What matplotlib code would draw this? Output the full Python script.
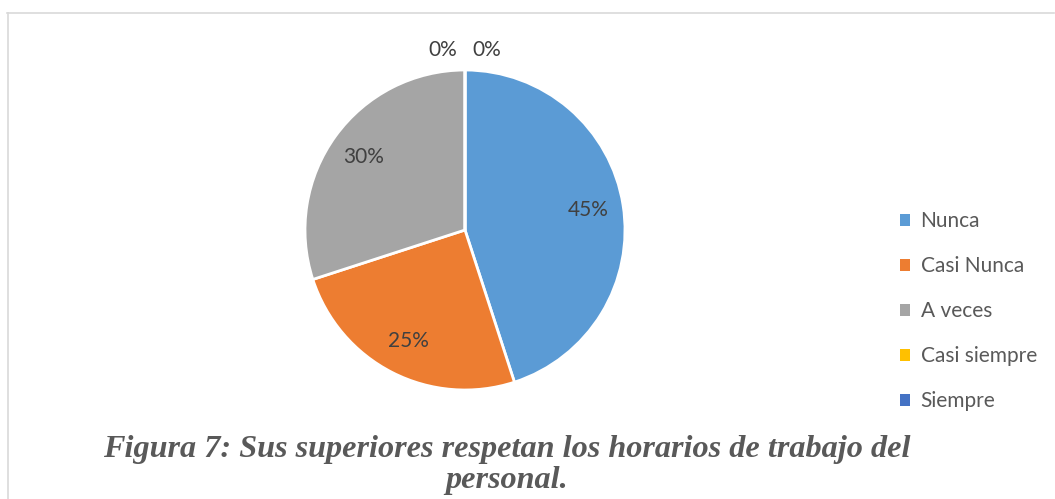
import matplotlib
matplotlib.use("Agg")
import matplotlib.pyplot as plt
from matplotlib.lines import Line2D
from matplotlib.patches import Patch

categories = ["Nunca", "Casi Nunca", "A veces", "Casi siempre", "Siempre"]
values = [45, 25, 30, 0, 0]
colors = ["#5B9BD5", "#ED7D31", "#A5A5A5", "#FFC000", "#4472C4"]
caption = "Figura 7: Sus superiores respetan los horarios de trabajo del\npersonal."

W, H = 1055, 499
fig = plt.figure(figsize=(W / 100, H / 100), dpi=100)
fig.patch.set_facecolor("white")

# pie axes: center (465,230), radius 160 px
cx, cy, r = 465, 230, 160
ax = fig.add_axes([(cx - r) / W, (H - cy - r) / H, 2 * r / W, 2 * r / H])
wedges, texts, autotexts = ax.pie(
    values, colors=colors, startangle=90, counterclock=False,
    autopct=lambda p: f"{p:.0f}%", pctdistance=0.78,
    wedgeprops=dict(edgecolor="white", linewidth=2),
    textprops=dict(fontsize=15, color="#404040", family="Lato"),
)
ax.set_xlim(-1, 1)
ax.set_ylim(-1, 1)
ax.set_aspect("equal")

# zero-value labels sit above the top of the pie, offset sideways
zero_offsets = [-0.1375, 0.1375]
k = 0
for v, t in zip(values, autotexts):
    if v == 0:
        t.set_position((zero_offsets[k], 1.125))
        t.set_clip_on(False)
        k += 1

handles = [Patch(facecolor=c, edgecolor="none") for c in colors]
leg = fig.legend(handles, categories, loc="center left",
                 bbox_to_anchor=(0.835, 0.376), frameon=False,
                 prop=dict(family="Lato", size=15), labelcolor="#595959",
                 handlelength=0.5, handleheight=0.5, handletextpad=0.5,
                 labelspacing=1.2)

fig.text(0.48, 0.068, caption, ha="center", va="center",
         family="Liberation Serif", style="italic", weight="bold",
         fontsize=23.2, color="#595959", linespacing=1.12)

# frame lines (top and left)
fig.add_artist(Line2D([7 / W, 1054 / W], [1 - 12.5 / H, 1 - 12.5 / H],
                      color="#D9D9D9", lw=1.2, transform=fig.transFigure))
fig.add_artist(Line2D([7.5 / W, 7.5 / W], [0, 1 - 12.5 / H],
                      color="#D9D9D9", lw=1.2, transform=fig.transFigure))

fig.savefig("out.png", dpi=100)
